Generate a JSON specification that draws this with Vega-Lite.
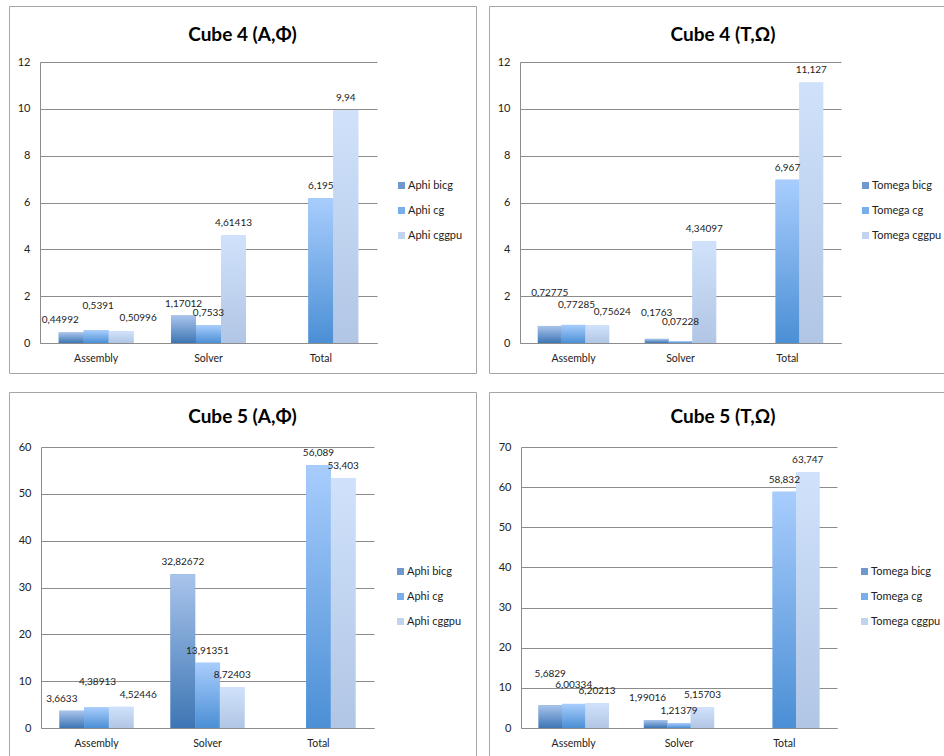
{
  "$schema": "https://vega.github.io/schema/vega-lite/v6.json",
  "padding": {"left": 8, "top": 5, "right": 0, "bottom": 0},
  "background": "white",
  "config": {
    "locale": {"number": {"decimal": ",", "thousands": ".", "grouping": [3], "currency": ["", " €"]}},
    "font": "Lato",
    "view": {"stroke": "#a6a6a6", "strokeWidth": 1},
    "axis": {"ticks": false, "domainColor": "#8c8c8c", "gridColor": "#8c8c8c", "labelFontSize": 11, "labelColor": "#222222", "labelFont": "Lato", "title": null, "labelPadding": 10},
    "legend": {"orient": "none", "title": null, "symbolType": "square", "symbolSize": 49, "symbolStrokeWidth": 0, "labelFontSize": 11, "labelColor": "#222222", "labelFont": "Lato", "rowPadding": 13, "labelOffset": 1, "padding": 0},
    "title": {"fontSize": 19, "fontWeight": "bold", "color": "#000000", "font": "Lato", "anchor": "middle", "frame": "group", "baseline": "middle"},
    "text": {"baseline": "middle", "fontSize": 10, "color": "#222222"}
  },
  "datasets": {
    "c4a": [
      {"cat": "Assembly", "series": "Aphi bicg", "value": 0.44992},
      {"cat": "Solver", "series": "Aphi bicg", "value": 1.17012},
      {"cat": "Assembly", "series": "Aphi cg", "value": 0.5391},
      {"cat": "Solver", "series": "Aphi cg", "value": 0.7533},
      {"cat": "Total", "series": "Aphi cg", "value": 6.195},
      {"cat": "Assembly", "series": "Aphi cggpu", "value": 0.50996},
      {"cat": "Solver", "series": "Aphi cggpu", "value": 4.61413},
      {"cat": "Total", "series": "Aphi cggpu", "value": 9.94}
    ],
    "c4t": [
      {"cat": "Assembly", "series": "Tomega bicg", "value": 0.72775},
      {"cat": "Solver", "series": "Tomega bicg", "value": 0.1763},
      {"cat": "Assembly", "series": "Tomega cg", "value": 0.77285},
      {"cat": "Solver", "series": "Tomega cg", "value": 0.07228},
      {"cat": "Total", "series": "Tomega cg", "value": 6.967},
      {"cat": "Assembly", "series": "Tomega cggpu", "value": 0.75624},
      {"cat": "Solver", "series": "Tomega cggpu", "value": 4.34097},
      {"cat": "Total", "series": "Tomega cggpu", "value": 11.127}
    ],
    "c5a": [
      {"cat": "Assembly", "series": "Aphi bicg", "value": 3.6633},
      {"cat": "Solver", "series": "Aphi bicg", "value": 32.82672},
      {"cat": "Assembly", "series": "Aphi cg", "value": 4.38913},
      {"cat": "Solver", "series": "Aphi cg", "value": 13.91351},
      {"cat": "Total", "series": "Aphi cg", "value": 56.089},
      {"cat": "Assembly", "series": "Aphi cggpu", "value": 4.52446},
      {"cat": "Solver", "series": "Aphi cggpu", "value": 8.72403},
      {"cat": "Total", "series": "Aphi cggpu", "value": 53.403}
    ],
    "c5t": [
      {"cat": "Assembly", "series": "Tomega bicg", "value": 5.6829},
      {"cat": "Solver", "series": "Tomega bicg", "value": 1.99016},
      {"cat": "Assembly", "series": "Tomega cg", "value": 6.00334},
      {"cat": "Solver", "series": "Tomega cg", "value": 1.21379},
      {"cat": "Total", "series": "Tomega cg", "value": 58.832},
      {"cat": "Assembly", "series": "Tomega cggpu", "value": 6.20213},
      {"cat": "Solver", "series": "Tomega cggpu", "value": 5.15703},
      {"cat": "Total", "series": "Tomega cggpu", "value": 63.747}
    ]
  },
  "columns": 2,
  "spacing": {"row": 17, "column": 11},
  "resolve": {
    "scale": {"x": "independent", "y": "independent", "color": "independent", "xOffset": "independent"},
    "legend": {"color": "independent"}
  },
  "concat": [
    {
      "width": 467, "height": 367,
      "data": {"name": "c4a"},
      "title": {"text": "Cube 4 (A,Φ)", "offset": -39},
      "encoding": {
        "x": {"field": "cat", "type": "nominal", "sort": ["Assembly", "Solver", "Total"], "scale": {"range": [31, 368], "paddingInner": 0.333, "paddingOuter": 0.1667}, "axis": {"labelAngle": 0, "offset": -30, "grid": false, "labelFontSize": 10.5}},
        "y": {"field": "value", "type": "quantitative", "scale": {"domain": [0, 12], "range": [337, 56], "nice": false}, "axis": {"values": [0, 2, 4, 6, 8, 10, 12], "offset": -31, "grid": true}},
        "xOffset": {"field": "series", "type": "nominal", "scale": {"domain": ["Aphi bicg", "Aphi cg", "Aphi cggpu"]}}
      },
      "layer": [
        {"mark": {"type": "bar"}, "encoding": {"color": {"field": "series", "type": "nominal", "scale": {"domain": ["Aphi bicg", "Aphi cg", "Aphi cggpu"], "range": ["#6f98cf", "#78aeea", "#c0d4f0"]}, "legend": {"legendX": 387, "legendY": 174}}}},
        {"transform": [{"filter": {"field": "series", "equal": "Aphi bicg"}}], "mark": {"type": "bar", "color": {"gradient": "linear", "x1": 0, "y1": 0, "x2": 0, "y2": 1, "stops": [{"offset": 0, "color": "#a9c4ec"}, {"offset": 1, "color": "#3d76b4"}]}}},
        {"transform": [{"filter": {"field": "series", "equal": "Aphi cg"}}], "mark": {"type": "bar", "color": {"gradient": "linear", "x1": 0, "y1": 0, "x2": 0, "y2": 1, "stops": [{"offset": 0, "color": "#a8cdfd"}, {"offset": 1, "color": "#4b8fd5"}]}}},
        {"transform": [{"filter": {"field": "series", "equal": "Aphi cggpu"}}], "mark": {"type": "bar", "color": {"gradient": "linear", "x1": 0, "y1": 0, "x2": 0, "y2": 1, "stops": [{"offset": 0, "color": "#d0e2fb"}, {"offset": 1, "color": "#b1c6e5"}]}}},
        {"transform": [{"filter": "datum.cat !== 'Assembly'"}], "mark": {"type": "text", "dy": -12}, "encoding": {"text": {"field": "value", "type": "quantitative", "format": ".10~g"}}},
        {"transform": [{"filter": "datum.cat === 'Assembly' && datum.series === 'Aphi bicg'"}], "mark": {"type": "text", "dx": -11, "dy": -12}, "encoding": {"text": {"field": "value", "type": "quantitative", "format": ".10~g"}}},
        {"transform": [{"filter": "datum.cat === 'Assembly' && datum.series === 'Aphi cg'"}], "mark": {"type": "text", "dx": 2, "dy": -24}, "encoding": {"text": {"field": "value", "type": "quantitative", "format": ".10~g"}}},
        {"transform": [{"filter": "datum.cat === 'Assembly' && datum.series === 'Aphi cggpu'"}], "mark": {"type": "text", "dx": 17, "dy": -13}, "encoding": {"text": {"field": "value", "type": "quantitative", "format": ".10~g"}}}
      ]
    },
    {
      "width": 458, "height": 367,
      "data": {"name": "c4t"},
      "title": {"text": "Cube 4 (T,Ω)", "offset": -39, "dx": 5},
      "encoding": {
        "x": {"field": "cat", "type": "nominal", "sort": ["Assembly", "Solver", "Total"], "scale": {"range": [31, 352], "paddingInner": 0.333, "paddingOuter": 0.1667}, "axis": {"labelAngle": 0, "offset": -30, "grid": false, "labelFontSize": 10.5}},
        "y": {"field": "value", "type": "quantitative", "scale": {"domain": [0, 12], "range": [337, 56], "nice": false}, "axis": {"values": [0, 2, 4, 6, 8, 10, 12], "offset": -31, "grid": true}},
        "xOffset": {"field": "series", "type": "nominal", "scale": {"domain": ["Tomega bicg", "Tomega cg", "Tomega cggpu"]}}
      },
      "layer": [
        {"mark": {"type": "bar"}, "encoding": {"color": {"field": "series", "type": "nominal", "scale": {"domain": ["Tomega bicg", "Tomega cg", "Tomega cggpu"], "range": ["#6f98cf", "#78aeea", "#c0d4f0"]}, "legend": {"legendX": 371, "legendY": 174}}}},
        {"transform": [{"filter": {"field": "series", "equal": "Tomega bicg"}}], "mark": {"type": "bar", "color": {"gradient": "linear", "x1": 0, "y1": 0, "x2": 0, "y2": 1, "stops": [{"offset": 0, "color": "#a9c4ec"}, {"offset": 1, "color": "#3d76b4"}]}}},
        {"transform": [{"filter": {"field": "series", "equal": "Tomega cg"}}], "mark": {"type": "bar", "color": {"gradient": "linear", "x1": 0, "y1": 0, "x2": 0, "y2": 1, "stops": [{"offset": 0, "color": "#a8cdfd"}, {"offset": 1, "color": "#4b8fd5"}]}}},
        {"transform": [{"filter": {"field": "series", "equal": "Tomega cggpu"}}], "mark": {"type": "bar", "color": {"gradient": "linear", "x1": 0, "y1": 0, "x2": 0, "y2": 1, "stops": [{"offset": 0, "color": "#d0e2fb"}, {"offset": 1, "color": "#b1c6e5"}]}}},
        {"transform": [{"filter": "datum.cat === 'Total' || (datum.cat === 'Solver' && datum.series === 'Tomega cggpu')"}], "mark": {"type": "text", "dy": -12}, "encoding": {"text": {"field": "value", "type": "quantitative", "format": ".10~g"}}},
        {"transform": [{"filter": "datum.cat === 'Assembly' && datum.series === 'Tomega bicg'"}], "mark": {"type": "text", "dy": -33}, "encoding": {"text": {"field": "value", "type": "quantitative", "format": ".10~g"}}},
        {"transform": [{"filter": "datum.cat === 'Assembly' && datum.series === 'Tomega cg'"}], "mark": {"type": "text", "dx": 3, "dy": -20}, "encoding": {"text": {"field": "value", "type": "quantitative", "format": ".10~g"}}},
        {"transform": [{"filter": "datum.cat === 'Assembly' && datum.series === 'Tomega cggpu'"}], "mark": {"type": "text", "dx": 15, "dy": -13}, "encoding": {"text": {"field": "value", "type": "quantitative", "format": ".10~g"}}},
        {"transform": [{"filter": "datum.cat === 'Solver' && datum.series === 'Tomega bicg'"}], "mark": {"type": "text", "dy": -26}, "encoding": {"text": {"field": "value", "type": "quantitative", "format": ".10~g"}}},
        {"transform": [{"filter": "datum.cat === 'Solver' && datum.series === 'Tomega cg'"}], "mark": {"type": "text", "dy": -19}, "encoding": {"text": {"field": "value", "type": "quantitative", "format": ".10~g"}}}
      ]
    },
    {
      "width": 467, "height": 366,
      "data": {"name": "c5a"},
      "title": {"text": "Cube 5 (A,Φ)", "offset": -35},
      "encoding": {
        "x": {"field": "cat", "type": "nominal", "sort": ["Assembly", "Solver", "Total"], "scale": {"range": [32, 365], "paddingInner": 0.333, "paddingOuter": 0.1667}, "axis": {"labelAngle": 0, "offset": -30, "grid": false, "labelFontSize": 10.5}},
        "y": {"field": "value", "type": "quantitative", "scale": {"domain": [0, 60], "range": [336, 55], "nice": false}, "axis": {"values": [0, 10, 20, 30, 40, 50, 60], "offset": -32, "grid": true}},
        "xOffset": {"field": "series", "type": "nominal", "scale": {"domain": ["Aphi bicg", "Aphi cg", "Aphi cggpu"]}}
      },
      "layer": [
        {"mark": {"type": "bar"}, "encoding": {"color": {"field": "series", "type": "nominal", "scale": {"domain": ["Aphi bicg", "Aphi cg", "Aphi cggpu"], "range": ["#6f98cf", "#78aeea", "#c0d4f0"]}, "legend": {"legendX": 386, "legendY": 174}}}},
        {"transform": [{"filter": {"field": "series", "equal": "Aphi bicg"}}], "mark": {"type": "bar", "color": {"gradient": "linear", "x1": 0, "y1": 0, "x2": 0, "y2": 1, "stops": [{"offset": 0, "color": "#a9c4ec"}, {"offset": 1, "color": "#3d76b4"}]}}},
        {"transform": [{"filter": {"field": "series", "equal": "Aphi cg"}}], "mark": {"type": "bar", "color": {"gradient": "linear", "x1": 0, "y1": 0, "x2": 0, "y2": 1, "stops": [{"offset": 0, "color": "#a8cdfd"}, {"offset": 1, "color": "#4b8fd5"}]}}},
        {"transform": [{"filter": {"field": "series", "equal": "Aphi cggpu"}}], "mark": {"type": "bar", "color": {"gradient": "linear", "x1": 0, "y1": 0, "x2": 0, "y2": 1, "stops": [{"offset": 0, "color": "#d0e2fb"}, {"offset": 1, "color": "#b1c6e5"}]}}},
        {"transform": [{"filter": "datum.cat !== 'Assembly'"}], "mark": {"type": "text", "dy": -12}, "encoding": {"text": {"field": "value", "type": "quantitative", "format": ".10~g"}}},
        {"transform": [{"filter": "datum.cat === 'Assembly' && datum.series === 'Aphi bicg'"}], "mark": {"type": "text", "dx": -10, "dy": -12}, "encoding": {"text": {"field": "value", "type": "quantitative", "format": ".10~g"}}},
        {"transform": [{"filter": "datum.cat === 'Assembly' && datum.series === 'Aphi cg'"}], "mark": {"type": "text", "dx": 1, "dy": -25}, "encoding": {"text": {"field": "value", "type": "quantitative", "format": ".10~g"}}},
        {"transform": [{"filter": "datum.cat === 'Assembly' && datum.series === 'Aphi cggpu'"}], "mark": {"type": "text", "dx": 17, "dy": -12}, "encoding": {"text": {"field": "value", "type": "quantitative", "format": ".10~g"}}}
      ]
    },
    {
      "width": 458, "height": 366,
      "data": {"name": "c5t"},
      "title": {"text": "Cube 5 (T,Ω)", "offset": -35, "dx": 5},
      "encoding": {
        "x": {"field": "cat", "type": "nominal", "sort": ["Assembly", "Solver", "Total"], "scale": {"range": [32, 348], "paddingInner": 0.333, "paddingOuter": 0.1667}, "axis": {"labelAngle": 0, "offset": -30, "grid": false, "labelFontSize": 10.5}},
        "y": {"field": "value", "type": "quantitative", "scale": {"domain": [0, 70], "range": [336, 55], "nice": false}, "axis": {"values": [0, 10, 20, 30, 40, 50, 60, 70], "offset": -32, "grid": true}},
        "xOffset": {"field": "series", "type": "nominal", "scale": {"domain": ["Tomega bicg", "Tomega cg", "Tomega cggpu"]}}
      },
      "layer": [
        {"mark": {"type": "bar"}, "encoding": {"color": {"field": "series", "type": "nominal", "scale": {"domain": ["Tomega bicg", "Tomega cg", "Tomega cggpu"], "range": ["#6f98cf", "#78aeea", "#c0d4f0"]}, "legend": {"legendX": 370, "legendY": 174}}}},
        {"transform": [{"filter": {"field": "series", "equal": "Tomega bicg"}}], "mark": {"type": "bar", "color": {"gradient": "linear", "x1": 0, "y1": 0, "x2": 0, "y2": 1, "stops": [{"offset": 0, "color": "#a9c4ec"}, {"offset": 1, "color": "#3d76b4"}]}}},
        {"transform": [{"filter": {"field": "series", "equal": "Tomega cg"}}], "mark": {"type": "bar", "color": {"gradient": "linear", "x1": 0, "y1": 0, "x2": 0, "y2": 1, "stops": [{"offset": 0, "color": "#a8cdfd"}, {"offset": 1, "color": "#4b8fd5"}]}}},
        {"transform": [{"filter": {"field": "series", "equal": "Tomega cggpu"}}], "mark": {"type": "bar", "color": {"gradient": "linear", "x1": 0, "y1": 0, "x2": 0, "y2": 1, "stops": [{"offset": 0, "color": "#d0e2fb"}, {"offset": 1, "color": "#b1c6e5"}]}}},
        {"transform": [{"filter": "datum.cat === 'Total' || (datum.cat === 'Solver' && datum.series !== 'Tomega bicg') || (datum.cat === 'Assembly' && datum.series === 'Tomega cggpu')"}], "mark": {"type": "text", "dy": -12}, "encoding": {"text": {"field": "value", "type": "quantitative", "format": ".10~g"}}},
        {"transform": [{"filter": "datum.cat === 'Assembly' && datum.series === 'Tomega bicg'"}], "mark": {"type": "text", "dy": -31}, "encoding": {"text": {"field": "value", "type": "quantitative", "format": ".10~g"}}},
        {"transform": [{"filter": "datum.cat === 'Assembly' && datum.series === 'Tomega cg'"}], "mark": {"type": "text", "dy": -19}, "encoding": {"text": {"field": "value", "type": "quantitative", "format": ".10~g"}}},
        {"transform": [{"filter": "datum.cat === 'Solver' && datum.series === 'Tomega bicg'"}], "mark": {"type": "text", "dx": -8, "dy": -22}, "encoding": {"text": {"field": "value", "type": "quantitative", "format": ".10~g"}}}
      ]
    }
  ]
}
